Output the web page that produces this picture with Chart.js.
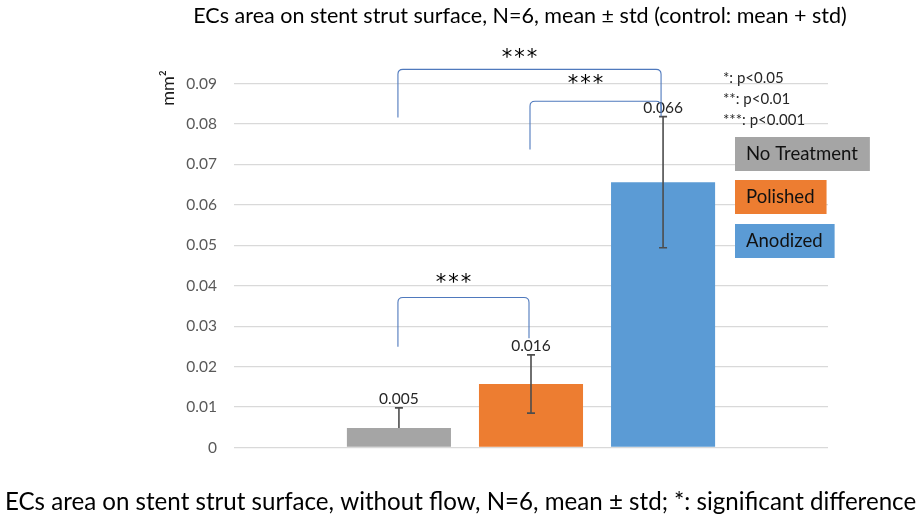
<!DOCTYPE html>
<html>
<head>
<meta charset="utf-8">
<script src="https://cdn.jsdelivr.net/npm/chart.js@4.4.1/dist/chart.umd.min.js"></script>
<style>
  html, body { margin: 0; padding: 0; background: #ffffff; overflow: hidden; }
  #wrap { width: 921px; height: 519px; position: relative; }
</style>
</head>
<body>
<div id="wrap"><canvas id="c" width="921" height="519"></canvas></div>
<script>
// ---------- data ----------
const categories = ['No Treatment', 'Polished', 'Anodized'];
const means      = [0.0048, 0.0157, 0.0656];
const stdUpper   = [0.0050, 0.0072, 0.0162];
const stdLower   = [0,      0.0072, 0.0162];   // control: mean + std only
const yTicks     = [0, 0.01, 0.02, 0.03, 0.04, 0.05, 0.06, 0.07, 0.08, 0.09];
const comparisons = [[0, 1], [1, 2], [0, 2]];
const compLabels  = ['***', '***', '***'];
const pLegend     = ['*: p<0.05', '**: p<0.01', '***: p<0.001'];
const titleText   = 'ECs area on stent strut surface, N=6, mean \u00B1 std (control: mean + std)';
const captionText = 'ECs area on stent strut surface, without flow, N=6, mean \u00B1 std; *: significant difference';
const yUnit       = 'mm\u00B2';

// ---------- style ----------
const FAM = 'Lato';
const barColors = ['#A5A5A5', '#ED7D31', '#5B9BD5'];
// bracket geometry (value units): left leg bottom, top, right leg bottom; star offset px
const bracketGeom = [
  { lb: 0.0249, top: 0.0371, rb: 0.0270, dy: 18 },
  { lb: 0.0737, top: 0.0856, rb: 0.0828, dy: 21 },
  { lb: 0.0816, top: 0.0935, rb: 0.0819, dy: 15 }
];

function fitSize(text, target, weight) {
  const c = document.createElement('canvas').getContext('2d');
  c.font = (weight || 'normal') + ' 100px ' + FAM;
  return 100 * target / c.measureText(text).width;
}
const titleSize = fitSize(titleText, 654);
const capSize = fitSize(captionText, 912);
const legSize = fitSize('No Treatment', 112);
const LH = 1.2;

const capLH = capSize * LH;
const capPadTop = 55 - capLH / 2;
const capPadBot = Math.max(0, 71.5 - capPadTop - capLH);

const annot = {
  id: 'annot',
  afterDatasetsDraw(chart) {
    const ctx = chart.ctx;
    const ys = chart.scales.y;
    const cx = i => chart.getDatasetMeta(i).data[0].x;
    ctx.save();

    // chart title
    ctx.fillStyle = '#000';
    ctx.font = titleSize + 'px ' + FAM;
    ctx.textAlign = 'center';
    ctx.textBaseline = 'middle';
    ctx.fillText(titleText, 520, 16.5);

    // error bars + value labels
    for (let i = 0; i < means.length; i++) {
      const x = cx(i);
      const yT = ys.getPixelForValue(means[i] + stdUpper[i]);
      const yB = ys.getPixelForValue(means[i] - stdLower[i]);
      ctx.strokeStyle = '#4d4d4d';
      ctx.lineWidth = 1.6;
      ctx.beginPath();
      ctx.moveTo(x, yB); ctx.lineTo(x, yT);
      ctx.moveTo(x - 4, yT); ctx.lineTo(x + 4, yT);
      if (stdLower[i] > 0) { ctx.moveTo(x - 4, yB); ctx.lineTo(x + 4, yB); }
      ctx.stroke();
      ctx.fillStyle = '#262626';
      ctx.font = '15.5px ' + FAM;
      ctx.textAlign = 'center';
      ctx.textBaseline = 'bottom';
      ctx.fillText(means[i].toFixed(3), x, yT - 1);
    }

    // significance brackets
    comparisons.forEach((pr, k) => {
      const g = bracketGeom[k];
      const xa = cx(pr[0]) - 1, xb = cx(pr[1]) - 2;
      const yl = ys.getPixelForValue(g.lb), yt = ys.getPixelForValue(g.top), yr = ys.getPixelForValue(g.rb);
      const r = 5;
      ctx.strokeStyle = '#4F79BD';
      ctx.lineWidth = 1.1;
      ctx.beginPath();
      ctx.moveTo(xa, yl);
      ctx.lineTo(xa, yt + r);
      ctx.quadraticCurveTo(xa, yt, xa + r, yt);
      ctx.lineTo(xb - r, yt);
      ctx.quadraticCurveTo(xb, yt, xb, yt + r);
      ctx.lineTo(xb, yr);
      ctx.stroke();
      ctx.fillStyle = '#000';
      ctx.font = '21px "DejaVu Sans"';
      ctx.textAlign = 'center';
      ctx.textBaseline = 'middle';
      ctx.fillText(compLabels[k].split('').join('\u200A'), (xa + xb) / 2 - 10, yt - g.dy + 4);
    });

    // p-value legend
    ctx.fillStyle = '#262626';
    ctx.font = '15px ' + FAM;
    ctx.textAlign = 'left';
    ctx.textBaseline = 'middle';
    pLegend.forEach((t, k) => ctx.fillText(t, 723, 78 + k * 21));

    // category legend boxes
    const tops = [137, 180, 224];
    ctx.font = legSize + 'px ' + FAM;
    categories.forEach((c, k) => {
      const w = ctx.measureText(c).width + 23;
      ctx.fillStyle = barColors[k];
      ctx.fillRect(735, tops[k], w, 34);
      ctx.fillStyle = '#111';
      ctx.textAlign = 'left';
      ctx.textBaseline = 'middle';
      ctx.fillText(c, 746, tops[k] + 17.5);
    });

    // y unit
    ctx.save();
    ctx.translate(168, 88);
    ctx.rotate(-Math.PI / 2);
    ctx.fillStyle = '#1a1a1a';
    ctx.font = '18px ' + FAM;
    ctx.textAlign = 'center';
    ctx.textBaseline = 'middle';
    ctx.fillText(yUnit, 0, 0);
    ctx.restore();

    ctx.restore();
  }
};

new Chart(document.getElementById('c'), {
  type: 'bar',
  data: {
    labels: [''],
    datasets: categories.map((c, i) => ({
      label: c,
      data: [means[i]],
      yAxisID: 'y',
      backgroundColor: barColors[i],
      borderWidth: 0,
      categoryPercentage: 0.667,
      barPercentage: 0.788
    }))
  },
  options: {
    responsive: false,
    animation: false,
    layout: { padding: { left: 0, right: 0, top: 83.5, bottom: 0 } },
    plugins: {
      legend: { display: false },
      tooltip: { enabled: false },
      title: { display: false },
      subtitle: {
        display: true, position: 'bottom', text: captionText, color: '#000',
        font: { family: FAM, size: capSize, weight: 'normal', lineHeight: LH },
        padding: { top: capPadTop, bottom: capPadBot }
      }
    },
    scales: {
      x: { display: false },
      y: {
        min: 0, max: 0.09,
        afterBuildTicks: s => { s.ticks = yTicks.map(v => ({ value: v })); },
        afterFit: s => { s.width = 234; },
        ticks: {
          color: '#595959',
          font: { family: FAM, size: 15.5 },
          padding: 17,
          callback: v => (v === 0 ? '0' : v.toFixed(2))
        },
        grid: { color: '#D9D9D9', lineWidth: 1.3, drawTicks: false },
        border: { display: false }
      },
      yR: {
        position: 'right', display: true, min: 0, max: 1,
        afterFit: s => { s.width = 93; },
        ticks: { display: false },
        grid: { display: false, drawTicks: false },
        border: { display: false }
      }
    }
  },
  plugins: [annot]
});
</script>
</body>
</html>
